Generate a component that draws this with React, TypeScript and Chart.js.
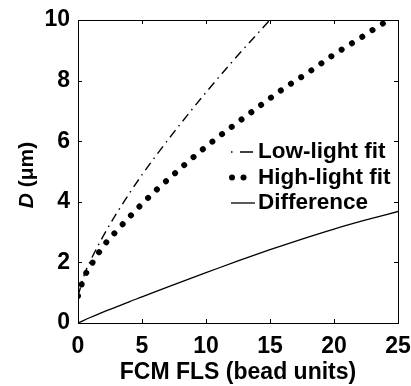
import React, { useEffect, useRef } from "react";
import { Chart, registerables } from "chart.js";

Chart.register(...registerables);

// ---- data ----
const X_TICKS = [0, 5, 10, 15, 20, 25];
const Y_TICKS = [0, 2, 4, 6, 8, 10];

const LOW_F = [0, 0.5, 1, 2, 3, 4, 5, 6, 8, 10, 12, 14, 16];
const LOW_D = [0.89, 1.6, 2.08, 2.89, 3.61, 4.27, 4.89, 5.47, 6.57, 7.61, 8.6, 9.54, 10.47];

const HIGH_F = [0, 0.5, 1, 2, 3, 4, 5, 6, 8, 10, 12, 14, 16, 18, 20, 22, 24, 25];
const HIGH_D = [0.89, 1.53, 1.9, 2.55, 3.03, 3.49, 3.93, 4.34, 5.1, 5.82, 6.47, 7.1, 7.72, 8.27, 8.86, 9.39, 9.93, 10.15];

const DIFF_F = [0, 1, 2, 3, 4, 5, 7.5, 10, 12.5, 15, 17.5, 20, 22.5, 25];
const DIFF_D = [0, 0.19, 0.37, 0.53, 0.7, 0.86, 1.27, 1.66, 2.05, 2.42, 2.77, 3.1, 3.4, 3.68];

const LEGEND_LABELS = ["Low-light fit", "High-light fit", "Difference"];
const X_TITLE = "FCM FLS (bead units)";
const Y_TITLE_ITALIC = "D";
const Y_TITLE_REST = " (\u03bcm)";

const FONT = "'Liberation Sans', Arial, sans-serif";

const pts = (xs: number[], ys: number[]) => xs.map((x, i) => ({ x, y: ys[i] }));

const decorPlugin = {
  id: "decor",
  afterDraw(chart: any) {
    const { ctx, chartArea } = chart;
    const { left, right, top, bottom } = chartArea;
    const xs = chart.scales.x;
    const ys = chart.scales.y;
    ctx.save();
    ctx.strokeStyle = "#000";
    ctx.lineWidth = 1;
    ctx.setLineDash([]);
    // frame
    ctx.strokeRect(Math.round(left) + 0.5, Math.round(top) + 0.5, Math.round(right - left), Math.round(bottom - top));
    // inward ticks
    const tl = 4;
    ctx.beginPath();
    X_TICKS.forEach((v) => {
      const p = Math.round(xs.getPixelForValue(v)) + 0.5;
      ctx.moveTo(p, bottom);
      ctx.lineTo(p, bottom - tl);
      ctx.moveTo(p, top);
      ctx.lineTo(p, top + tl);
    });
    Y_TICKS.forEach((v) => {
      const p = Math.round(ys.getPixelForValue(v)) + 0.5;
      ctx.moveTo(left, p);
      ctx.lineTo(left + tl, p);
      ctx.moveTo(right, p);
      ctx.lineTo(right - tl, p);
    });
    ctx.stroke();

    // x title
    ctx.fillStyle = "#000";
    ctx.font = `bold 23px ${FONT}`;
    ctx.textAlign = "center";
    ctx.textBaseline = "middle";
    ctx.fillText(X_TITLE, (left + right) / 2, 373);

    // y title
    ctx.save();
    ctx.translate(27, 175);
    ctx.rotate(-Math.PI / 2);
    ctx.textAlign = "left";
    ctx.font = `italic bold 21px ${FONT}`;
    const w1 = ctx.measureText(Y_TITLE_ITALIC).width;
    ctx.font = `bold 21px ${FONT}`;
    const w2 = ctx.measureText(Y_TITLE_REST).width;
    const x0 = -(w1 + w2) / 2;
    ctx.font = `italic bold 21px ${FONT}`;
    ctx.fillText(Y_TITLE_ITALIC, x0, 0);
    ctx.font = `bold 21px ${FONT}`;
    ctx.fillText(Y_TITLE_REST, x0 + w1, 0);
    ctx.restore();

    // legend
    const rowsY = [152, 177.5, 203];
    const sx0 = 231, sx1 = 255, tx = 258;
    ctx.lineWidth = 1.5;
    ctx.beginPath();
    ctx.moveTo(231, rowsY[0]);
    ctx.lineTo(232.5, rowsY[0]);
    ctx.moveTo(240, rowsY[0]);
    ctx.lineTo(253, rowsY[0]);
    ctx.stroke();
    [232, 243.5].forEach((cx) => {
      ctx.beginPath();
      ctx.arc(cx, rowsY[1], 3, 0, Math.PI * 2);
      ctx.fill();
    });
    ctx.lineWidth = 1.3;
    ctx.beginPath();
    ctx.moveTo(sx0, rowsY[2]);
    ctx.lineTo(sx1, rowsY[2]);
    ctx.stroke();
    ctx.font = `bold 22.5px ${FONT}`;
    ctx.textAlign = "left";
    ctx.textBaseline = "middle";
    LEGEND_LABELS.forEach((t, i) => ctx.fillText(t, tx, rowsY[i]));
    ctx.restore();
  },
};

export default function App() {
  const ref = useRef<HTMLCanvasElement>(null);
  useEffect(() => {
    if (!ref.current) return;
    const chart = new Chart(ref.current, {
      type: "line",
      data: {
        datasets: [
          {
            label: LEGEND_LABELS[0],
            data: pts(LOW_F, LOW_D),
            borderColor: "#000",
            borderWidth: 1.4,
            borderDash: [9, 5, 1.5, 5],
            pointRadius: 0,
            cubicInterpolationMode: "monotone",
            fill: false,
          },
          {
            label: LEGEND_LABELS[1],
            data: pts(HIGH_F, HIGH_D),
            borderColor: "#000",
            borderWidth: 6,
            borderDash: [0.01, 12.2],
            borderCapStyle: "round",
            pointRadius: 0,
            cubicInterpolationMode: "monotone",
            fill: false,
          },
          {
            label: LEGEND_LABELS[2],
            data: pts(DIFF_F, DIFF_D),
            borderColor: "#000",
            borderWidth: 1.3,
            pointRadius: 0,
            cubicInterpolationMode: "monotone",
            fill: false,
          },
        ],
      },
      options: {
        responsive: false,
        animation: false,
        layout: { padding: { top: 20, right: 13, left: 0, bottom: 0 } },
        plugins: { legend: { display: false }, tooltip: { enabled: false } },
        scales: {
          x: {
            type: "linear",
            min: 0,
            max: 25,
            grid: { display: false, drawTicks: false },
            border: { display: false },
            afterFit: (s: any) => { s.height = 63; s.paddingLeft = 0; s.paddingRight = 0; },
            afterBuildTicks: (s: any) => { s.ticks = X_TICKS.map((v) => ({ value: v })); },
            ticks: {
              padding: 10,
              color: "#000",
              font: { family: FONT, size: 23, weight: "bold" },
            },
          },
          y: {
            type: "linear",
            min: 0,
            max: 10,
            grid: { display: false, drawTicks: false },
            border: { display: false },
            afterFit: (s: any) => { s.width = 78; s.paddingTop = 0; s.paddingBottom = 0; },
            afterBuildTicks: (s: any) => { s.ticks = Y_TICKS.map((v) => ({ value: v })); },
            ticks: {
              padding: 8,
              color: "#000",
              font: { family: FONT, size: 23, weight: "bold" },
            },
          },
        },
      },
      plugins: [decorPlugin],
    } as any);
    return () => chart.destroy();
  }, []);
  return (
    <div style={{ position: "absolute", left: 0, top: 0, width: 411, height: 386, background: "#fff" }}>
      <canvas ref={ref} width={411} height={386} style={{ display: "block" }} />
    </div>
  );
}
